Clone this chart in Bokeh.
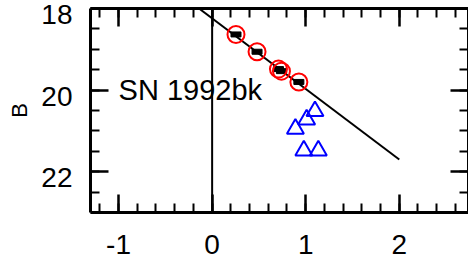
from bokeh.plotting import figure
from bokeh.models import Range1d, LinearAxis, SingleIntervalTicker, CustomJSTickFormatter
from bokeh.embed import file_html
from bokeh.resources import INLINE
from bokeh.core.properties import value

# data
red_x = [0.255, 0.48, 0.709, 0.741, 0.927]
red_y = [18.636, 19.06, 19.485, 19.535, 19.80]
tri_x = [1.099, 1.01, 0.89, 0.98, 1.135]
tri_y = [20.517, 20.72, 20.95, 21.48, 21.48]
fit_x = [-0.14, 2.0]
fit_y = [18.0, 21.7]
zero_x = [0, 0]
zero_y = [18, 23]
label_text = "SN 1992bk"
label_x = -1.0
label_y = 20.0
x_lo, x_hi = -1.30, 2.74
y_lo, y_hi = 18, 23
y_label_shift = 0.15  # tick labels sit slightly below their ticks in the reference

FONT = "Liberation Sans"

p = figure(width=468, height=271, output_backend="svg", toolbar_location=None,
           x_range=Range1d(x_lo, x_hi), y_range=Range1d(y_hi, y_lo),
           min_border_left=90, min_border_top=8, min_border_right=0, min_border_bottom=59,
           x_axis_location=None, y_axis_location=None)
p.extra_y_ranges = {"lab": Range1d(y_hi - y_label_shift, y_lo - y_label_shift)}
p.outline_line_color = None
p.xgrid.visible = False
p.ygrid.visible = False
p.background_fill_color = "white"
p.border_fill_color = "white"

fmt = CustomJSTickFormatter(code="return tick.toFixed(0);")
blank = CustomJSTickFormatter(code="return '';")


def ticks_style(ax):
    ax.axis_line_width = 3
    ax.axis_line_color = "black"
    ax.major_tick_in = 18
    ax.major_tick_out = 0
    ax.minor_tick_in = 9
    ax.minor_tick_out = 0
    ax.major_tick_line_width = 2.5
    ax.minor_tick_line_width = 2
    ax.major_tick_line_color = "black"
    ax.minor_tick_line_color = "black"


def hide_labels(ax):
    ax.formatter = blank
    ax.major_label_text_font_size = "1px"
    ax.major_label_standoff = 0


def show_labels(ax):
    ax.formatter = fmt
    ax.major_label_text_font = FONT
    ax.major_label_text_font_size = "28px"
    ax.major_label_text_color = "black"


xt = SingleIntervalTicker(interval=1, num_minor_ticks=5)
yt = SingleIntervalTicker(interval=2, num_minor_ticks=4)

bottom = LinearAxis(ticker=xt)
ticks_style(bottom)
show_labels(bottom)
bottom.major_label_standoff = 22
p.add_layout(bottom, "below")

top = LinearAxis(ticker=xt)
ticks_style(top)
hide_labels(top)
p.add_layout(top, "above")

left = LinearAxis(ticker=yt)
ticks_style(left)
hide_labels(left)
p.add_layout(left, "left")

left_lab = LinearAxis(ticker=SingleIntervalTicker(interval=2, num_minor_ticks=0),
                      y_range_name="lab", axis_label="B")
show_labels(left_lab)
left_lab.axis_line_color = None
left_lab.major_tick_line_color = None
left_lab.minor_tick_line_color = None
left_lab.major_tick_in = 0
left_lab.major_tick_out = 0
left_lab.minor_tick_in = 0
left_lab.minor_tick_out = 0
left_lab.major_label_standoff = 18
left_lab.axis_label_text_font = FONT
left_lab.axis_label_text_font_size = "22px"
left_lab.axis_label_text_font_style = "normal"
left_lab.axis_label_text_color = "black"
left_lab.axis_label_standoff = 6
p.add_layout(left_lab, "left")

right = LinearAxis(ticker=yt)
ticks_style(right)
hide_labels(right)
p.add_layout(right, "right")

p.line(zero_x, zero_y, line_color="black", line_width=2)
p.line(fit_x, fit_y, line_color="black", line_width=2)

p.scatter(tri_x, tri_y, marker="triangle", size=17, fill_color=None,
          line_color="#0000ff", line_width=2)
p.rect(red_x, red_y, width=10, height=5, width_units="screen", height_units="screen",
       fill_color="black", line_color="black")
p.scatter(red_x, red_y, marker="circle", size=17, fill_color=None,
          line_color="#ff0000", line_width=2)

p.text([label_x], [label_y], text=[label_text], text_font=value(FONT),
       text_font_size="29px", text_color="black", text_baseline="alphabetic",
       text_align="left")

open("out.html", "w").write(file_html(p, INLINE))
